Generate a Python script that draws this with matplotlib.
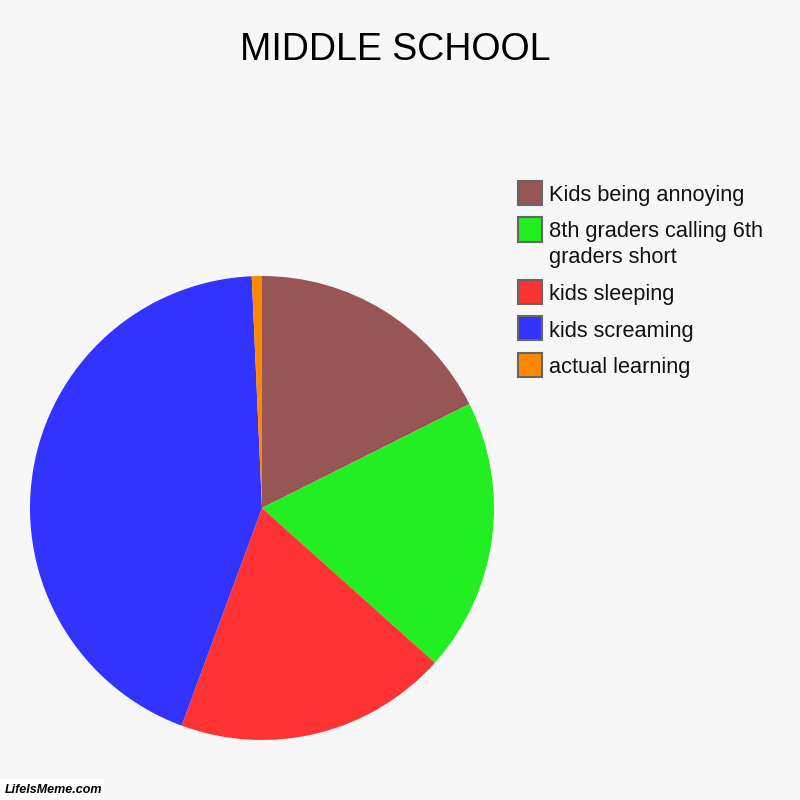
import matplotlib
matplotlib.use("Agg")
import matplotlib.pyplot as plt
from matplotlib.patches import Rectangle

title = "MIDDLE SCHOOL"
labels = ["Kids being annoying", "8th graders calling 6th\ngraders short",
          "kids sleeping", "kids screaming", "actual learning"]
values = [25, 27, 27, 62, 1]
colors = ["#995555", "#22EE22", "#FF3333", "#3333FF", "#FF8800"]

W = H = 800
bg = "#F7F7F7"
plt.rcParams['font.family'] = ['Liberation Sans', 'DejaVu Sans']

fig = plt.figure(figsize=(8, 8), dpi=100, facecolor=bg)

# pie axes: center (262,508), radius 232 px
cx, cy, r = 262, 508, 232
ax = fig.add_axes([(cx - r) / W, (H - cy - r) / H, 2 * r / W, 2 * r / H])
ax.set_facecolor(bg)
ax.pie(values, colors=colors, startangle=90, counterclock=False, radius=1,
       wedgeprops=dict(linewidth=0))
ax.set_xlim(-1, 1)
ax.set_ylim(-1, 1)
ax.set_aspect('equal')
ax.axis('off')

fig.text(395 / W, 1 - 60 / H, title, ha='center', va='baseline', fontsize=27,
         color='#000000')

# legend
y = 193
sq = 24
for lab, col in zip(labels, colors):
    fig.add_artist(Rectangle((518 / W, 1 - (y + sq / 2) / H), sq / W, sq / H,
                             facecolor=col, edgecolor='#666666', linewidth=1.5,
                             transform=fig.transFigure))
    lines = lab.split("\n")
    for k, ln in enumerate(lines):
        fig.text(549 / W, 1 - (y + k * 26) / H, ln, ha='left', va='center_baseline',
                 fontsize=15.7, color='#111111')
    y += (len(lines) - 1) * 26 + 36.5

# watermark
fig.add_artist(Rectangle((0, 0), 104 / W, 21 / H, facecolor='white',
                         edgecolor='none', transform=fig.transFigure))
fig.text(5 / W, 10 / H, "LifeIsMeme.com", ha='left', va='center', fontsize=9,
         fontweight='bold', fontstyle='italic', color='#000000')

fig.savefig("out.png", dpi=100, facecolor=bg)
